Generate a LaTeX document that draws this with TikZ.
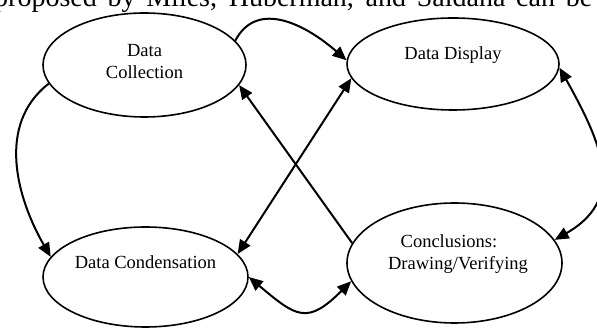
\documentclass[tikz,border=0pt]{standalone}
\usepackage{fontspec}
\setmainfont{Liberation Serif}
\usetikzlibrary{shapes.geometric,arrows.meta}
\tikzset{
  oval/.style={draw, ellipse, line width=1.6pt, inner sep=0pt},
  lbl/.style={font=\fontsize{18.5}{22}\selectfont, align=center, inner sep=0pt},
  conn/.style={line width=2pt},
  tip/.tip={Triangle[length=14pt,width=12pt]}
}
\begin{document}
\begin{tikzpicture}[x=1pt,y=-1pt]
\clip (0,0) rectangle (597,328);
\useasboundingbox (0,0) rectangle (597,328);
% cut-off text line at top
\node[anchor=base west, inner sep=0pt, font=\fontsize{28}{30}\selectfont] (head) at (-6,7)
  {\makebox[598pt][s]{proposed by Miles, Huberman, and Saldana can be}};
% ellipses
\node[oval, minimum width=203pt, minimum height=104pt] (coll) at (144.5,65) {};
\node[oval, minimum width=212pt, minimum height=92pt] (disp) at (453,64) {};
\node[oval, minimum width=205pt, minimum height=100pt] (cond) at (145.5,277) {};
\node[oval, minimum width=215pt, minimum height=120pt] (conc) at (454.5,263) {};
% labels
\node[lbl] (tcoll) at (144.5,62) {Data\\Collection};
\node[lbl] (tdisp) at (453,55) {Data Display};
\node[lbl] (tcond) at (145.5,262) {Data Condensation};
\node[lbl] (tconc) at (458,254) {Conclusions:\hspace*{18pt}\\Drawing/Verifying};
% connectors
\draw[conn, -tip] (coll.15) .. controls +(22,-42) and +(-40,-35) .. (disp.178);
\draw[conn, -tip] (coll.191) .. controls +(-53,41) and +(-33.5,-58) .. (cond.168);
\draw[conn, tip-tip] (disp.358) .. controls +(45,80) and +(70,-40) .. (conc.13);
\draw[conn, -tip] (conc.169) -- (coll.-12);
\draw[conn, tip-tip] (cond.14) -- (disp.188);
\draw[conn, tip-tip] (cond.0) .. controls +(47.5,40) and +(-44,44) .. (conc.190);
\end{tikzpicture}
\end{document}
